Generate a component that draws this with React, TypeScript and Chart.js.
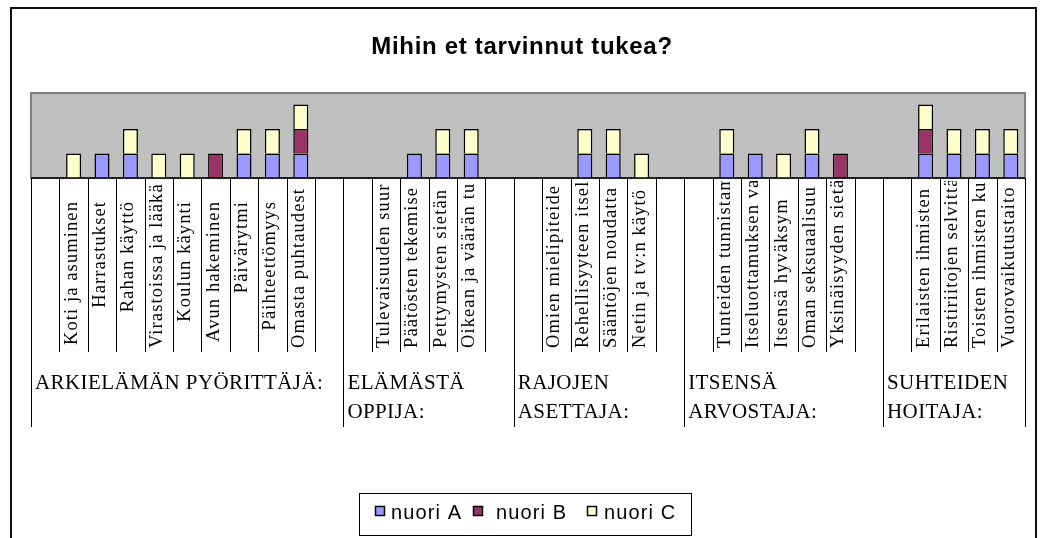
import React, { useEffect, useRef } from "react";
import { Chart, registerables } from "chart.js";

Chart.register(...registerables);

const TITLE = "Mihin et tarvinnut tukea?";

const categories: string[] = [
  "",
  "Koti ja asuminen",
  "Harrastukset",
  "Rahan käyttö",
  "Virastoissa ja lääkä",
  "Koulun käynti",
  "Avun hakeminen",
  "Päivärytmi",
  "Päihteettömyys",
  "Omasta puhtaudest",
  "",
  "",
  "Tulevaisuuden suur",
  "Päätösten tekemise",
  "Pettymysten sietän",
  "Oikean ja väärän tu",
  "",
  "",
  "Omien mielipiteide",
  "Rehellisyyteen itsel",
  "Sääntöjen noudatta",
  "Netin ja tv:n käytö",
  "",
  "",
  "Tunteiden tunnistam",
  "Itseluottamuksen va",
  "Itsensä hyväksym",
  "Oman seksuaalisuu",
  "Yksinäisyyden sietä",
  "",
  "",
  "Erilaisten ihmisten",
  "Ristiriitojen selvittä",
  "Toisten ihmisten ku",
  "Vuorovaikutustaito",
];

const nuoriA = [0, 0, 1, 1, 0, 0, 0, 1, 1, 1, 0, 0, 0, 1, 1, 1, 0, 0, 0, 1, 1, 0, 0, 0, 1, 1, 0, 1, 0, 0, 0, 1, 1, 1, 1];
const nuoriB = [0, 0, 0, 0, 0, 0, 1, 0, 0, 1, 0, 0, 0, 0, 0, 0, 0, 0, 0, 0, 0, 0, 0, 0, 0, 0, 0, 0, 1, 0, 0, 1, 0, 0, 0];
const nuoriC = [0, 1, 0, 1, 1, 1, 0, 1, 1, 1, 0, 0, 0, 0, 1, 1, 0, 0, 0, 1, 1, 1, 0, 0, 1, 0, 1, 1, 0, 0, 0, 1, 1, 1, 1];

const groupLabels = [
  "ARKIELÄMÄN PYÖRITTÄJÄ:",
  "ELÄMÄSTÄ OPPIJA:",
  "RAJOJEN ASETTAJA:",
  "ITSENSÄ ARVOSTAJA:",
  "SUHTEIDEN HOITAJA:",
];
const groupSizes = [11, 6, 6, 7, 5];

const seriesNames = ["nuori A", "nuori B", "nuori C"];
const seriesColors = ["#9999FF", "#993366", "#FFFFCC"];

const toBars = (arr: number[]) => arr.map((v) => (v === 0 ? null : v));

const SERIF = "'Liberation Serif', 'Times New Roman', serif";
const SANS = "'Liberation Sans', Arial, sans-serif";

const excelPlugin = {
  id: "excelLook",
  beforeDraw(chart: any) {
    const ctx = chart.ctx as CanvasRenderingContext2D;
    const { left, right, top, bottom } = chart.chartArea;
    ctx.save();
    ctx.fillStyle = "#ffffff";
    ctx.fillRect(0, 0, chart.width, chart.height);
    // outer chart border
    ctx.strokeStyle = "#111111";
    ctx.lineWidth = 2;
    ctx.strokeRect(11, 8, 1025, 640);
    // plot area
    ctx.fillStyle = "#C0C0C0";
    ctx.fillRect(left, top, right - left, bottom - top);
    ctx.strokeStyle = "#808080";
    ctx.lineWidth = 2;
    ctx.strokeRect(left, top, right - left, bottom - top);
    ctx.restore();
  },
  afterDatasetsDraw(chart: any) {
    const ctx = chart.ctx as CanvasRenderingContext2D;
    const { left, right, bottom } = chart.chartArea;
    const xs = chart.scales.x;
    const w = xs.getPixelForValue(1) - xs.getPixelForValue(0);
    const edge = (i: number) => xs.getPixelForValue(i) - w / 2;

    ctx.save();
    // axis line
    ctx.strokeStyle = "#000";
    ctx.lineWidth = 1.5;
    ctx.beginPath();
    ctx.moveTo(left, bottom);
    ctx.lineTo(right, bottom);
    ctx.stroke();

    // separators
    const bounds: number[] = [0];
    groupSizes.forEach((s) => bounds.push(bounds[bounds.length - 1] + s));
    ctx.lineWidth = 1;
    ctx.strokeStyle = "#000";
    for (let i = 0; i <= categories.length; i++) {
      const x = Math.round(i === categories.length ? right : edge(i)) + 0.5;
      const isGroup = bounds.includes(i);
      ctx.beginPath();
      ctx.moveTo(x, bottom);
      ctx.lineTo(x, isGroup ? 427 : 352);
      ctx.stroke();
    }

    // rotated category labels
    ctx.fillStyle = "#000";
    ctx.font = `18.5px ${SERIF}`;
    (ctx as any).letterSpacing = "1.1px";
    categories.forEach((lab, i) => {
      if (!lab) return;
      const cx = xs.getPixelForValue(i);
      const tw = ctx.measureText(lab).width;
      let yStart = 201 + tw;
      if (yStart > 348) yStart = 348;
      ctx.save();
      ctx.beginPath();
      ctx.rect(edge(i) + 1, 181, w - 1, 175);
      ctx.clip();
      ctx.translate(cx + 3, yStart);
      ctx.rotate(-Math.PI / 2);
      ctx.textAlign = "left";
      ctx.textBaseline = "alphabetic";
      ctx.fillText(lab, 0, 0);
      ctx.restore();
    });

    // group labels
    ctx.font = `21px ${SERIF}`;
    (ctx as any).letterSpacing = "0.4px";
    ctx.textAlign = "left";
    ctx.textBaseline = "alphabetic";
    groupLabels.forEach((g, gi) => {
      const x0 = edge(bounds[gi]) + 4;
      const maxW = groupSizes[gi] * w - 8;
      const words = g.split(" ");
      const lines: string[] = [];
      let cur = "";
      words.forEach((wd) => {
        const test = cur ? cur + " " + wd : wd;
        if (cur && ctx.measureText(test).width > maxW) {
          lines.push(cur);
          cur = wd;
        } else cur = test;
      });
      if (cur) lines.push(cur);
      lines.forEach((ln, li) => ctx.fillText(ln, x0, 389 + li * 29));
    });

    // title
    ctx.font = `bold 24px ${SANS}`;
    (ctx as any).letterSpacing = "0.7px";
    ctx.textAlign = "center";
    ctx.fillText(TITLE, 522, 54);

    // legend
    ctx.textAlign = "left";
    ctx.lineWidth = 1;
    ctx.strokeStyle = "#000";
    ctx.strokeRect(359.5, 493.5, 332, 42);
    ctx.font = `20px ${SANS}`;
    (ctx as any).letterSpacing = "1.1px";
    const sqX = [375, 473, 587];
    const txX = [391, 496, 604];
    seriesNames.forEach((n, k) => {
      ctx.fillStyle = seriesColors[k];
      ctx.fillRect(sqX[k], 506, 10, 10);
      ctx.lineWidth = 1.5;
      ctx.strokeRect(sqX[k] + 0.5, 506.5, 9, 9);
      ctx.fillStyle = "#000";
      ctx.fillText(n, txX[k], 519);
    });
    ctx.restore();
  },
};

export default function App() {
  const ref = useRef<HTMLCanvasElement>(null);
  useEffect(() => {
    const chart = new Chart(ref.current as HTMLCanvasElement, {
      type: "bar",
      data: {
        labels: categories,
        datasets: seriesNames.map((name, k) => ({
          label: name,
          data: toBars([nuoriA, nuoriB, nuoriC][k]),
          backgroundColor: seriesColors[k],
          borderColor: "#000",
          borderWidth: 1.5,
          barPercentage: 0.53,
          categoryPercentage: 1,
        })),
      },
      options: {
        responsive: false,
        animation: false,
        devicePixelRatio: 1,
        events: [],
        layout: { padding: { left: 31, right: 19, top: 93, bottom: 360 } },
        plugins: {
          legend: { display: false },
          title: { display: false },
          tooltip: { enabled: false },
        },
        scales: {
          x: { stacked: true, display: false, offset: true },
          y: { stacked: true, display: false, min: 0, max: 3.47 },
        },
      },
      plugins: [excelPlugin],
    });
    return () => chart.destroy();
  }, []);
  return (
    <div style={{ position: "absolute", left: 0, top: 0, width: 1044, height: 538 }}>
      <canvas ref={ref} width={1044} height={538} style={{ display: "block" }} />
    </div>
  );
}
